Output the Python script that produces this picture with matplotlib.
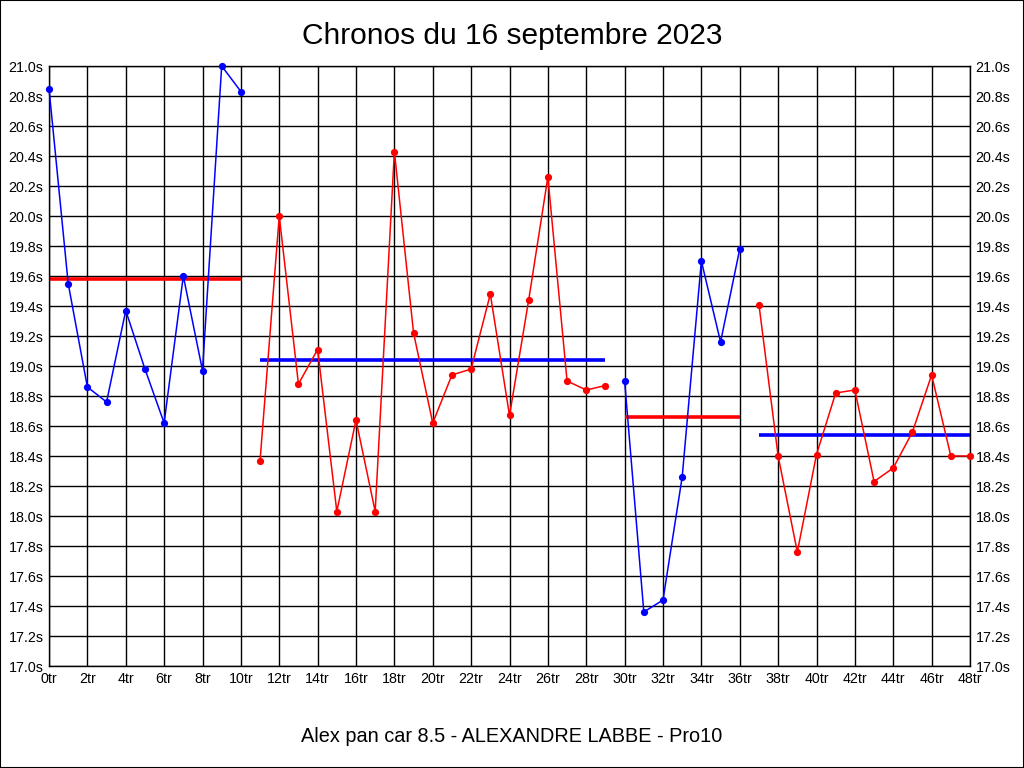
import matplotlib
matplotlib.use("Agg")
import matplotlib.pyplot as plt
from matplotlib.patches import Rectangle

plt.rcParams['font.family'] = ['Liberation Sans', 'DejaVu Sans']

title = "Chronos du 16 septembre 2023"
subtitle = "Alex pan car 8.5 - ALEXANDRE LABBE - Pro10"

# Segments (stints) : laps and lap times in seconds
seg1_laps = list(range(0, 11))
seg1_times = [20.85, 19.55, 18.86, 18.76, 19.37, 18.98, 18.62, 19.60, 18.97, 21.00, 20.83]
seg2_laps = list(range(11, 30))
seg2_times = [18.37, 20.00, 18.88, 19.11, 18.03, 18.64, 18.03, 20.43, 19.22, 18.62,
              18.94, 18.98, 19.48, 18.67, 19.44, 20.26, 18.90, 18.84, 18.87]
seg3_laps = list(range(30, 37))
seg3_times = [18.90, 17.36, 17.44, 18.26, 19.70, 19.16, 19.78]
seg4_laps = list(range(37, 49))
seg4_times = [19.41, 18.40, 17.76, 18.41, 18.82, 18.84, 18.23, 18.32, 18.56, 18.94, 18.40, 18.40]

segments = [
    (seg1_laps, seg1_times, "#0000ff", "#ff0000"),
    (seg2_laps, seg2_times, "#ff0000", "#0000ff"),
    (seg3_laps, seg3_times, "#0000ff", "#ff0000"),
    (seg4_laps, seg4_times, "#ff0000", "#0000ff"),
]

x_ticks = list(range(0, 49, 2))
x_labels = [f"{t}tr" for t in x_ticks]
y_ticks = [17.0 + 0.2 * i for i in range(21)]
y_labels = [f"{v:.1f}s" for v in y_ticks]

fig = plt.figure(figsize=(10.24, 7.68), dpi=100)
fig.patch.set_facecolor("white")
fig.patches.append(Rectangle((0, 0), 1, 1, transform=fig.transFigure,
                             fill=False, edgecolor="black", linewidth=1.5))

ax = fig.add_axes([49 / 1024, 102 / 768, 921 / 1024, 600 / 768])
ax.set_xlim(0, 48)
ax.set_ylim(17.0, 21.0)

for laps, times, lc, mc in segments:
    ax.plot(laps, times, color=lc, linewidth=1.1, marker="o", markersize=5.2,
            markeredgewidth=0, zorder=3, clip_on=False)
    mean = sum(times) / len(times)
    ax.plot([laps[0], laps[-1]], [mean, mean], color=mc, linewidth=2.6, zorder=2,
            solid_capstyle="butt")

ax.set_xticks(x_ticks)
ax.set_xticklabels(x_labels)
ax.set_yticks(y_ticks)
ax.set_yticklabels(y_labels)
ax.grid(True, color="black", linewidth=1.0)
ax.set_axisbelow(True)
ax.tick_params(axis="both", length=0, labelsize=10.3, colors="black", pad=4)
ax.tick_params(axis="y", right=True, labelright=True)
for s in ax.spines.values():
    s.set_color("black")
    s.set_linewidth(1.0)

fig.text(0.5, 1 - 36 / 768, title, ha="center", va="center", fontsize=21.5)
fig.text(0.5, 1 - 736 / 768, subtitle, ha="center", va="center", fontsize=14.3)

fig.savefig("out.png", dpi=100, facecolor="white")
